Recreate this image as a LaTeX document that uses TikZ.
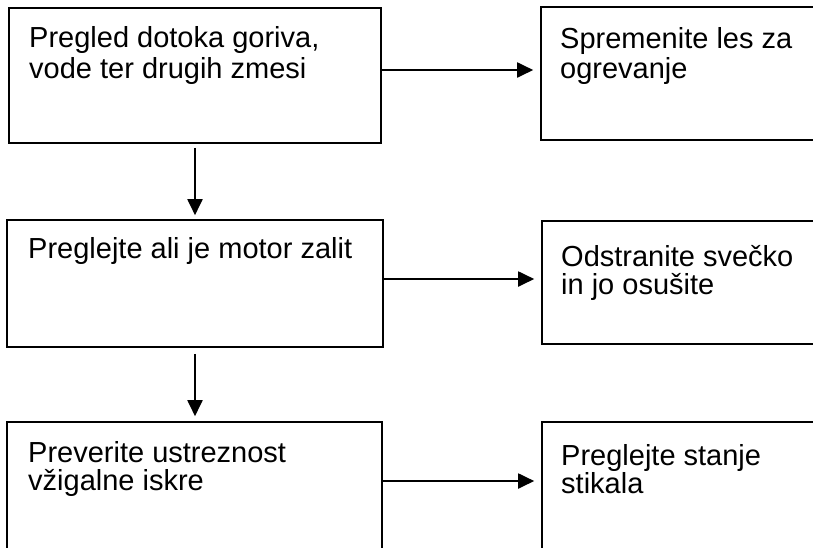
\documentclass[tikz,border=0pt]{standalone}
\usepackage{fontspec}
\setmainfont{Liberation Sans}
\usetikzlibrary{arrows.meta}
\tikzset{
  box/.style={draw=black, line width=1.6pt, rectangle, inner sep=0pt},
  txt/.style={anchor=base west, inner sep=0pt, align=left, text=black},
  arr/.style={draw=black, line width=1.9pt, -{Triangle[length=16pt,width=15pt]}},
}
\begin{document}
\begin{tikzpicture}[x=1pt,y=-1pt]
\useasboundingbox (0,0) rectangle (813,547);
\fill[white] (0,0) rectangle (813,547);
\clip (0,0) rectangle (813,547);
% boxes
\node[box, minimum width=372pt, minimum height=135pt] (b1) at (195,75.5) {};
\node[box, minimum width=300pt, minimum height=133pt] (b2) at (691,73.5) {};
\node[box, minimum width=376pt, minimum height=127pt] (b3) at (195,283.5) {};
\node[box, minimum width=300pt, minimum height=123pt] (b4) at (692,282.5) {};
\node[box, minimum width=375pt, minimum height=150pt] (b5) at (194.5,497) {};
\node[box, minimum width=300pt, minimum height=150pt] (b6) at (692,497) {};
% texts (anchored at the baseline of the last line)
\node[txt, font={\fontsize{29}{31}\selectfont}] (t1) at (29,78) {Pregled dotoka goriva,\\vode ter drugih zmesi};
\node[txt, font={\fontsize{29}{30}\selectfont}] (t2) at (560,78) {Spremenite les za\\ogrevanje};
\node[txt, font={\fontsize{29}{28}\selectfont}] (t3) at (28,258) {Preglejte ali je motor zalit};
\node[txt, font={\fontsize{29}{27.5}\selectfont}] (t4) at (561,294) {Odstranite svečko\\in jo osušite};
\node[txt, font={\fontsize{29}{28}\selectfont}] (t5) at (28,490) {Preverite ustreznost\\vžigalne iskre};
\node[txt, font={\fontsize{29}{28}\selectfont}] (t6) at (561,493) {Preglejte stanje\\stikala};
% connector levels
\coordinate (h1) at (0,70);
\coordinate (h2) at (0,279);
\coordinate (h3) at (0,481);
\coordinate (v) at (195,0);
% arrows
\draw[arr, shorten >=7pt] (b1.east |- h1) -- (b2.west |- h1);
\draw[arr, shorten >=7pt] (b3.east |- h2) -- (b4.west |- h2);
\draw[arr, shorten >=7pt] (b5.east |- h3) -- (b6.west |- h3);
\draw[arr, shorten <=4pt, shorten >=4pt] (v |- b1.south) -- (v |- b3.north);
\draw[arr, shorten <=6pt, shorten >=5pt] (v |- b3.south) -- (v |- b5.north);
\end{tikzpicture}
\end{document}
